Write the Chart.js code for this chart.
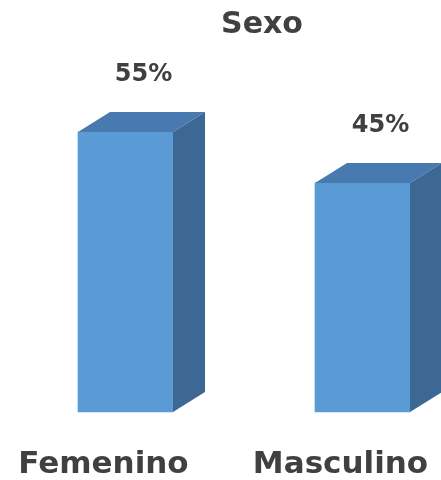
<!DOCTYPE html>
<html lang="es">
<head>
<meta charset="UTF-8">
<title>Sexo</title>
<script src="https://cdn.jsdelivr.net/npm/chart.js"></script>
<style>
  html, body { margin: 0; padding: 0; background: #ffffff; overflow: hidden; }
  canvas { display: block; }
</style>
</head>
<body>
<canvas id="sexChart" width="441" height="480"></canvas>
<script>
const categories = ["Femenino", "Masculino"];
const percentages = [55, 45];
const chartTitle = "Sexo";

const FRONT = "#5b9bd5";
const TOP = "#4879af";
const SIDE = "#3d6794";
const TEXT = "#404040";
const DEPTH_X = 32;
const DEPTH_Y = 20;
const FONT = "'DejaVu Sans', Verdana, sans-serif";

// top and side faces so each bar reads as a box
const boxes3d = {
  id: "boxes3d",
  afterDatasetsDraw(chart) {
    const ctx = chart.ctx;
    ctx.save();
    chart.getDatasetMeta(0).data.forEach((bar) => {
      const { x, y, base, width } = bar.getProps(["x", "y", "base", "width"], true);
      const l = x - width / 2;
      const r = x + width / 2;

      ctx.fillStyle = TOP;
      ctx.beginPath();
      ctx.moveTo(l, y);
      ctx.lineTo(r, y);
      ctx.lineTo(r + DEPTH_X, y - DEPTH_Y);
      ctx.lineTo(l + DEPTH_X, y - DEPTH_Y);
      ctx.closePath();
      ctx.fill();

      ctx.fillStyle = SIDE;
      ctx.beginPath();
      ctx.moveTo(r, y);
      ctx.lineTo(r + DEPTH_X, y - DEPTH_Y);
      ctx.lineTo(r + DEPTH_X, base - DEPTH_Y);
      ctx.lineTo(r, base);
      ctx.closePath();
      ctx.fill();
    });
    ctx.restore();
  }
};

// title, value labels and category names
const labelsPlugin = {
  id: "labelsPlugin",
  afterDraw(chart) {
    const ctx = chart.ctx;
    const xScale = chart.scales.x;
    ctx.save();
    ctx.fillStyle = TEXT;
    ctx.textAlign = "center";
    ctx.textBaseline = "middle";

    ctx.font = "bold 30px " + FONT;
    ctx.fillText(chartTitle, 262, 25);

    ctx.font = "bold 24px " + FONT;
    chart.getDatasetMeta(0).data.forEach((bar, i) => {
      ctx.fillText(percentages[i] + "%", bar.x + 18, bar.y - 57);
    });

    ctx.font = "bold 31px " + FONT;
    categories.forEach((name, i) => {
      ctx.fillText(name, xScale.getPixelForValue(i) - 22, 465);
    });
    ctx.restore();
  }
};

new Chart(document.getElementById("sexChart"), {
  type: "bar",
  data: {
    labels: categories,
    datasets: [{
      data: percentages,
      backgroundColor: FRONT,
      borderWidth: 0,
      barThickness: 95,
      clip: false
    }]
  },
  options: {
    responsive: false,
    devicePixelRatio: 1,
    animation: false,
    layout: { padding: { left: 125.5, right: 78.5, top: 106.5, bottom: 68 } },
    plugins: {
      legend: { display: false },
      title: { display: false },
      tooltip: { enabled: false }
    },
    scales: {
      x: { display: false, offset: false },
      y: { display: false, min: 0, max: 60 }
    }
  },
  plugins: [boxes3d, labelsPlugin]
});
</script>
</body>
</html>
